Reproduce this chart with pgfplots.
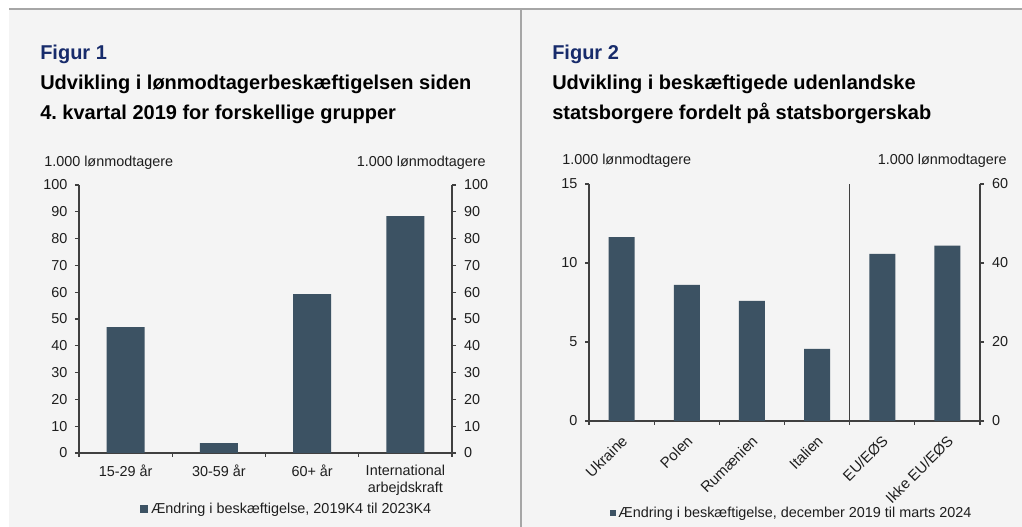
\documentclass[border=0pt]{standalone}
\usepackage{pgfplots}
\pgfplotsset{compat=1.18}
\usepackage{fontspec}
\setmainfont{Liberation Sans}
\frenchspacing
\definecolor{bgc}{HTML}{F4F4F4}
\definecolor{linec}{HTML}{A6A6A6}
\definecolor{barc}{HTML}{3C5263}
\definecolor{titc}{HTML}{172B6B}
\definecolor{axc}{HTML}{404040}
\definecolor{txtc}{HTML}{1E1E1E}
\newcommand{\smallf}{\fontsize{10.8}{12.8}\selectfont}
\newcommand{\rotf}{\fontsize{11.2}{13}\selectfont}
\newcommand{\titf}{\fontsize{15}{18}\selectfont\bfseries}
\pgfplotsset{
  mystyle/.style={
    scale only axis, anchor=south west, clip=false,
    axis line style={axc, line width=0.8pt},
    tick style={axc, line width=0.8pt},
    major tick length=3pt, minor tick length=3pt,
    tick align=outside,
    ticklabel style={font=\smallf, text=txtc},
    /pgf/number format/assume math mode=true,
  },
  lefty/.style={yticklabel style={xshift=-2.2pt}},
  righty/.style={yticklabel style={xshift=2.6pt}},
}
\begin{document}
\begin{tikzpicture}
\useasboundingbox (0,0) rectangle (766.5pt,395.25pt);
\fill[white] (0,0) rectangle (766.5pt,395.25pt);
\fill[bgc] (6.75pt,0) rectangle (766.5pt,388.5pt);
\draw[linec,line width=0.8pt] (6.75pt,388.5pt) -- (766.5pt,388.5pt);
\draw[linec,line width=0.8pt] (390.75pt,0) -- (390.75pt,388.5pt);
% titles
\node[anchor=base west, font=\titf, text=titc, inner sep=0] at (30pt,350.25pt) {Figur 1};
\node[anchor=base west, font=\titf, text=black, inner sep=0] at (30pt,328.1pt) {Udvikling i lønmodtagerbeskæftigelsen siden};
\node[anchor=base west, font=\titf, text=black, inner sep=0] at (30pt,305.6pt) {4. kvartal 2019 for forskellige grupper};
\node[anchor=base west, font=\titf, text=titc, inner sep=0] at (414pt,350.25pt) {Figur 2};
\node[anchor=base west, font=\titf, text=black, inner sep=0] at (414pt,328.1pt) {Udvikling i beskæftigede udenlandske};
\node[anchor=base west, font=\titf, text=black, inner sep=0] at (414pt,305.6pt) {statsborgere fordelt på statsborgerskab};
% unit labels
\node[anchor=base west, font=\smallf, text=txtc, inner sep=0] at (33pt,270pt) {1.000 lønmodtagere};
\node[anchor=base east, font=\smallf, text=txtc, inner sep=0] at (364.5pt,270pt) {1.000 lønmodtagere};
\node[anchor=base west, font=\smallf, text=txtc, inner sep=0] at (421.5pt,271.5pt) {1.000 lønmodtagere};
\node[anchor=base east, font=\smallf, text=txtc, inner sep=0] at (755.25pt,271.5pt) {1.000 lønmodtagere};

% ---------- Figure 1 ----------
\begin{axis}[mystyle, lefty, at={(59.25pt,55.5pt)}, width=279.75pt, height=201pt,
  xmin=-0.5, xmax=3.5, ymin=0, ymax=100, ytick={0,10,...,100},
  axis x line*=bottom, axis y line*=left,
  xtick={0,1,2,3},
  xticklabels={15-29 år, 30-59 år, 60+ år, {International\\arbejdskraft}},
  xticklabel style={align=center, yshift=-2.2pt},
  major x tick style={draw=none},
  minor xtick={-0.5,0.5,1.5,2.5,3.5},
  legend style={at={(0.558,-0.209)}, anchor=center, draw=none, fill=none,
    font=\smallf, text=txtc, inner sep=0pt},
]
\addplot[ybar, bar width=28.5pt, fill=barc, draw=none,
  legend image code/.code={\fill[barc] (0pt,-3pt) rectangle (6pt,3pt);}]
  coordinates {(0,47.0) (1,3.7) (2,59.3) (3,88.4)};
\addlegendentry{Ændring i beskæftigelse, 2019K4 til 2023K4}
\end{axis}
\begin{axis}[mystyle, righty, at={(59.25pt,55.5pt)}, width=279.75pt, height=201pt,
  xmin=-0.5, xmax=3.5, ymin=0, ymax=100, ytick={0,10,...,100},
  axis x line=none, axis y line*=right]
\addplot[draw=none] coordinates {(0,0)};
\end{axis}

% ---------- Figure 2 ----------
\begin{axis}[mystyle, lefty, at={(441.75pt,79.5pt)}, width=293.25pt, height=177.75pt,
  xmin=-0.5, xmax=5.5, ymin=0, ymax=15, ytick={0,5,10,15},
  axis x line*=bottom, axis y line*=left,
  xtick={0,1,2,3,4,5},
  xticklabels={Ukraine, Polen, Rumænien, Italien, EU/EØS, Ikke EU/EØS},
  xticklabel style={rotate=45, anchor=north east, font=\rotf, xshift=-2pt, yshift=-1pt},
  major x tick style={draw=none},
  minor xtick={-0.5,0.5,1.5,2.5,3.5,4.5,5.5},
  legend style={at={(0.519,-0.388)}, anchor=center, draw=none, fill=none,
    font=\smallf, text=txtc, inner sep=0pt},
]
\addplot[ybar, bar width=19.5pt, fill=barc, draw=none,
  legend image code/.code={\fill[barc] (0pt,-2.25pt) rectangle (4.5pt,2.25pt);}]
  coordinates {(0,11.64) (1,8.62) (2,7.60) (3,4.56)};
\addlegendentry{Ændring i beskæftigelse, december 2019 til marts 2024}
\draw[axc, line width=0.8pt] (axis cs:3.5,0) -- (axis cs:3.5,15);
\end{axis}
\begin{axis}[mystyle, righty, at={(441.75pt,79.5pt)}, width=293.25pt, height=177.75pt,
  xmin=-0.5, xmax=5.5, ymin=0, ymax=60, ytick={0,20,40,60},
  axis x line=none, axis y line*=right]
\addplot[ybar, bar width=19.5pt, fill=barc, draw=none]
  coordinates {(4,42.3) (5,44.4)};
\end{axis}
\end{tikzpicture}
\end{document}
